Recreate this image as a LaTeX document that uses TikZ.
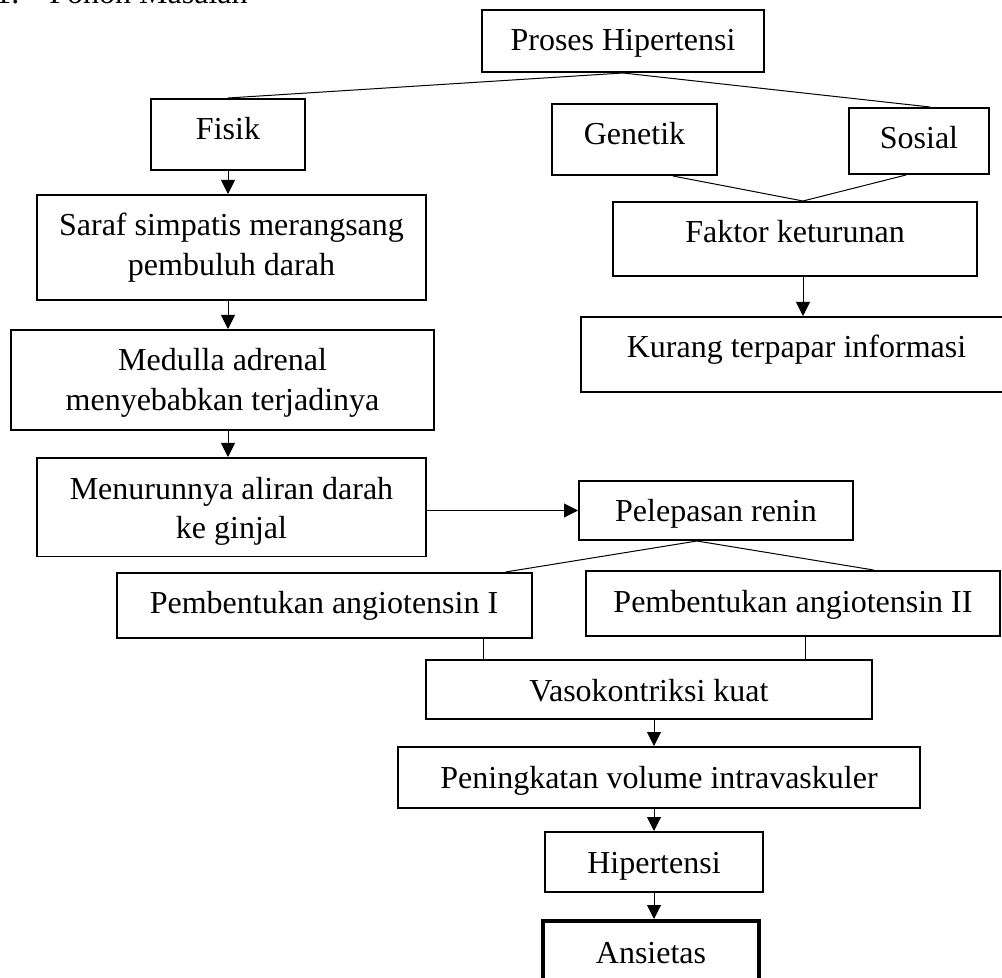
\documentclass[tikz,border=0pt]{standalone}
\usepackage{fontspec}
\setmainfont{Liberation Serif}
\usetikzlibrary{arrows.meta, positioning, calc}

\tikzset{
  kotak/.style={draw, line width=1pt, anchor=north, inner xsep=2pt, inner ysep=8.5pt,
    text height=12pt, align=center},
  panah/.style={line width=0.5pt, -{Triangle[width=7pt,length=7pt]}},
  garis/.style={line width=0.5pt}
}

\begin{document}
\begin{tikzpicture}[x=0.5pt,y=-0.5pt,font=\fontsize{16pt}{20pt}\selectfont]
\useasboundingbox (0,0) rectangle (1002,978);

% judul (terpotong di atas)
\node[anchor=base west, inner sep=0] (nomor) at (-5,3.5) {1.};
\node[anchor=base west, inner sep=0] (judul) at (49,3.5) {Pohon Masalah};

% kotak-kotak
\node[kotak, minimum width=141pt, text depth=2pt] (proses) at (623,9) {Proses Hipertensi};
\node[kotak, minimum width=77pt, text depth=6.5pt] (fisik) at (228,98) {Fisik};
\node[kotak, minimum width=82.5pt, text depth=6.5pt] (genetik) at (634.5,103) {Genetik};
\node[kotak, minimum width=70pt, text depth=4pt] (sosial) at (919,107) {Sosial};
\node[kotak, minimum width=182pt, text depth=8pt] (faktor) at (795,201) {Faktor keturunan};
\node[kotak, minimum width=215.5pt, text depth=8.5pt] (kurang) at (796.5,316) {Kurang terpapar informasi};

\node[kotak, minimum width=194.5pt, text height=32pt, text depth=3.5pt] (saraf) at (231.5,194)
  {Saraf simpatis merangsang\\ pembuluh darah};
\node[kotak, minimum width=211.5pt, text height=32pt, text depth=1pt] (medulla) at (222.5,329)
  {Medulla adrenal\\ menyebabkan terjadinya};
\node[kotak, minimum width=194.5pt, text height=32pt, text depth=-2pt] (turun) at (231.5,457)
  {Menurunnya aliran darah\\ ke ginjal};
% baris kedua terpotong oleh tepi bawah
\fill[white] ([shift={(1pt,0.6pt)}]turun.south west) rectangle ([shift={(-1pt,6pt)}]turun.south east);

\node[kotak, minimum width=137pt, text depth=0.5pt] (renin) at (716,480) {Pelepasan renin};
\node[kotak, minimum width=207.5pt, text depth=3.5pt] (angI) at (324,572) {Pembentukan angiotensin I};
\node[kotak, minimum width=207pt, text depth=3.5pt] (angII) at (793,570) {Pembentukan angiotensin II};
\node[kotak, minimum width=223pt, text depth=0.5pt] (vaso) at (649,659) {Vasokontriksi kuat};
\node[kotak, minimum width=261pt, text depth=1.5pt] (naik) at (659,746) {Peningkatan volume intravaskuler};
\node[kotak, minimum width=109pt, text depth=1pt] (hiper) at (654,831) {Hipertensi};
\node[kotak, line width=2pt, inner ysep=9pt, minimum width=108pt, text depth=20pt] (ansietas) at (651,919) {Ansietas};

% cabang atas
\draw[garis] (proses.south) -- (fisik.north);
\draw[garis] (proses.south) -- ([xshift=5.5pt]sosial.north);
\coordinate (temu) at ([xshift=4pt]faktor.north);
\draw[garis] ([xshift=19.25pt]genetik.south) -- (temu) -- ([xshift=-6.5pt]sosial.south);
\draw[panah] (temu |- faktor.south) -- (temu |- kurang.north);

% kolom kiri
\draw[panah] (fisik.south) -- (fisik.south |- saraf.north);
\draw[panah] (fisik.south |- saraf.south) -- (fisik.south |- medulla.north);
\draw[panah] (fisik.south |- medulla.south) -- (fisik.south |- turun.north);
\draw[panah] (turun.east |- renin.west) -- (renin.west);

% renin ke angiotensin
\coordinate (pecah) at ([xshift=-9.5pt]renin.south);
\draw[garis] ([xshift=90.8pt]angI.north) -- (pecah) -- ([xshift=40.3pt]angII.north);
\coordinate (v1) at ([xshift=79.5pt]angI.south);
\coordinate (v2) at ([xshift=6pt]angII.south);
\draw[garis] (v1) -- (v1 |- vaso.north);
\draw[garis] (v2) -- (v2 |- vaso.north);

% kolom bawah
\draw[panah] (hiper.north |- vaso.south) -- (hiper.north |- naik.north);
\draw[panah] (hiper.north |- naik.south) -- (hiper.north);
\draw[panah] (hiper.south) -- (hiper.south |- ansietas.north);
\end{tikzpicture}
\end{document}
